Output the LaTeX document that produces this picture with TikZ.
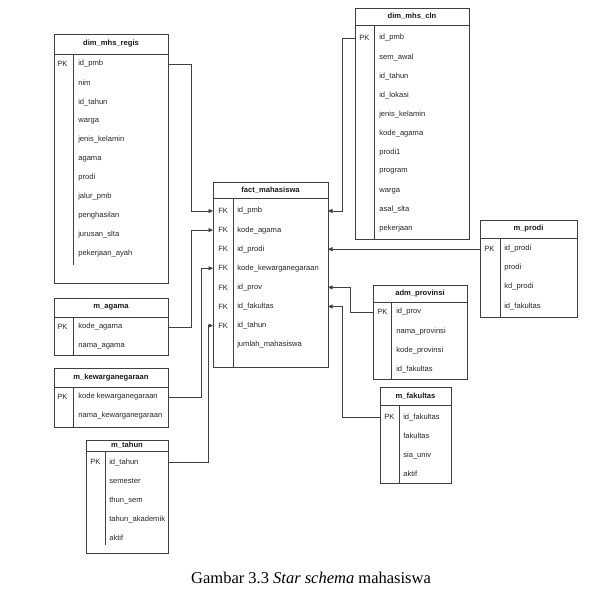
\documentclass[tikz,border=0pt]{standalone}
\usepackage{fontspec}
\setmainfont{Liberation Serif}
\setsansfont{Liberation Sans}
\usetikzlibrary{arrows.meta, positioning}

\begin{document}
\begin{tikzpicture}[
    x=1pt, y=-1pt,
    line width=0.6pt,
    tbl/.style={draw=black!75, anchor=north west, inner sep=0pt, outer sep=0pt},
    rule/.style={draw=black!75},
    title/.style={font=\sffamily\bfseries\fontsize{7.6}{9}\selectfont, text=black!90},
    field/.style={anchor=west, inner sep=0pt, font=\sffamily\fontsize{7.6}{9}\selectfont, text=black!85},
    fk/.style={draw=black!75, -{Triangle[length=4.5pt,width=4pt]}}
  ]
    \useasboundingbox (0,0) rectangle (616,595);

    % dim_mhs_regis
    \node[tbl, minimum width=114pt, minimum height=249pt] (regis) at (54,34) {};
    \node[title] (registitle) at (111,44) {dim\_mhs\_regis};
    \draw[rule] (54,54) -- (168,54);
    \draw[rule] (73,54) -- (73,265);
    \node[field] (regispk) at (57,64) {PK};
    \foreach \t [count=\i from 0] in {id\_pmb, nim, id\_tahun, warga, jenis\_kelamin, agama, prodi, jalur\_pmb, penghasilan, jurusan\_slta, pekerjaan\_ayah}
      \node[field] (regis-\i) at (78,64+19*\i) {\t};

    % dim_mhs_cln
    \node[tbl, minimum width=114pt, minimum height=231pt] (cln) at (355,8) {};
    \node[title] (clntitle) at (412,16.5) {dim\_mhs\_cln};
    \draw[rule] (355,25) -- (469,25);
    \draw[rule] (374,25) -- (374,239);
    \node[field] (clnpk) at (359,38) {PK};
    \foreach \t [count=\i from 0] in {id\_pmb, sem\_awal, id\_tahun, id\_lokasi, jenis\_kelamin, kode\_agama, prodi1, program, warga, asal\_slta, pekerjaan}
      \node[field] (cln-\i) at (379,38+19.1*\i) {\t};

    % fact_mahasiswa
    \node[tbl, minimum width=115pt, minimum height=185pt] (fact) at (213,182) {};
    \node[title] (facttitle) at (270.5,190) {fact\_mahasiswa};
    \draw[rule] (213,198) -- (328,198);
    \draw[rule] (233,198) -- (233,367);
    \foreach \i in {0,...,6}
      \node[field] (factfk-\i) at (218,211+19.1*\i) {FK};
    \foreach \t [count=\i from 0] in {id\_pmb, kode\_agama, id\_prodi, kode\_kewarganegaraan, id\_prov, id\_fakultas, id\_tahun, jumlah\_mahasiswa}
      \node[field] (fact-\i) at (237,211+19.1*\i) {\t};

    % m_prodi
    \node[tbl, minimum width=97pt, minimum height=97pt] (prodi) at (480,220) {};
    \node[title] (proditalt) at (528.5,229) {m\_prodi};
    \draw[rule] (480,238) -- (577,238);
    \draw[rule] (500,238) -- (500,317);
    \node[field] (prodipk) at (484,249) {PK};
    \foreach \t [count=\i from 0] in {id\_prodi, prodi, kd\_prodi, id\_fakultas}
      \node[field] (prodi-\i) at (504,249+19*\i) {\t};

    % adm_provinsi
    \node[tbl, minimum width=94pt, minimum height=94pt] (prov) at (373,285) {};
    \node[title] (provtitle) at (420,293.5) {adm\_provinsi};
    \draw[rule] (373,302) -- (467,302);
    \draw[rule] (391,302) -- (391,379);
    \node[field] (provpk) at (377,312) {PK};
    \foreach \t [count=\i from 0] in {id\_prov, nama\_provinsi, kode\_provinsi, id\_fakultas}
      \node[field] (prov-\i) at (396,312+19.3*\i) {\t};

    % m_fakultas
    \node[tbl, minimum width=71pt, minimum height=96pt] (fakultas) at (380,387) {};
    \node[title] (fakultastitle) at (415.5,396) {m\_fakultas};
    \draw[rule] (380,405) -- (451,405);
    \draw[rule] (399,405) -- (399,483);
    \node[field] (fakultaspk) at (384,417) {PK};
    \foreach \t [count=\i from 0] in {id\_fakultas, fakultas, sia\_univ, aktif}
      \node[field] (fakultas-\i) at (403,417+19*\i) {\t};

    % m_agama
    \node[tbl, minimum width=114pt, minimum height=57pt] (agama) at (54,298) {};
    \node[title] (agamatitle) at (111,307.5) {m\_agama};
    \draw[rule] (54,317) -- (168,317);
    \draw[rule] (73,317) -- (73,355);
    \node[field] (agamapk) at (57,327) {PK};
    \foreach \t [count=\i from 0] in {kode\_agama, nama\_agama}
      \node[field] (agama-\i) at (78,327+19*\i) {\t};

    % m_kewarganegaraan
    \node[tbl, minimum width=114pt, minimum height=59pt] (kew) at (54,368) {};
    \node[title] (kewtitle) at (111,377.5) {m\_kewarganegaraan};
    \draw[rule] (54,387) -- (168,387);
    \draw[rule] (73,387) -- (73,427);
    \node[field] (kewpk) at (57,397) {PK};
    \foreach \t [count=\i from 0] in {kode kewarganegaraan, nama\_kewarganegaraan}
      \node[field] (kew-\i) at (78,397+19*\i) {\t};

    % m_tahun
    \node[tbl, minimum width=82pt, minimum height=113pt] (tahun) at (86,440) {};
    \node[title] (tahuntitle) at (127,445.5) {m\_tahun};
    \draw[rule] (86,451) -- (168,451);
    \draw[rule] (105,451) -- (105,545);
    \node[field] (tahunpk) at (90,462) {PK};
    \foreach \t [count=\i from 0] in {id\_tahun, semester, thun\_sem, tahun\_akademik, aktif}
      \node[field] (tahun-\i) at (109,462+19*\i) {\t};

    % Arrows
    \draw[fk] (regis.east |- regis-0) -- ++(23,0) |- (fact.west |- fact-0);
    \draw[fk] (agama.east |- agama-0) -- ++(23,0) |- (fact.west |- fact-1);
    \draw[fk] (kew.east |- kew-0) -- ++(33,0) |- (fact.west |- fact-3);
    \draw[fk] (tahun.east |- tahun-0) -- ++(40,0) |- (fact.west |- fact-6);
    \draw[fk] (cln.west |- cln-0) -- ++(-13,0) |- (fact.east |- fact-0);
    \draw[fk] (prodi.west |- fact-2) -- (fact.east |- fact-2);
    \draw[fk] (prov.west |- prov-0) -- ++(-23,0) |- (fact.east |- fact-4);
    \draw[fk] (fakultas.west |- fakultas-0) -- ++(-38,0) |- (fact.east |- fact-5);

    % Caption
    \node[font=\fontsize{16.5}{20}\selectfont] (caption) at (311,578) {Gambar 3.3 \textit{Star schema} mahasiswa};
\end{tikzpicture}
\end{document}
